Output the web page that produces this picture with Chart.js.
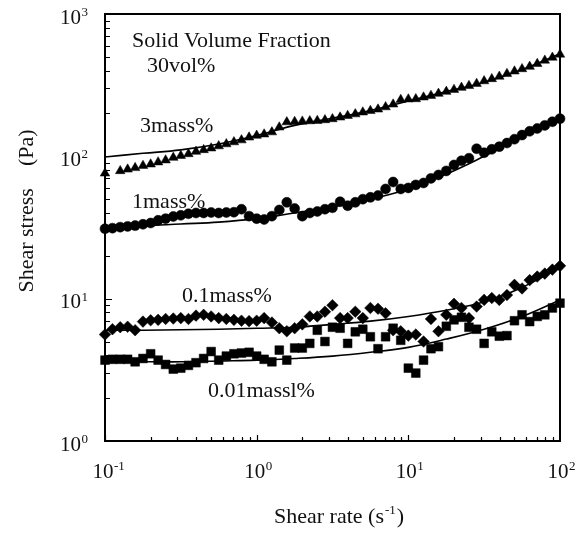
<!DOCTYPE html>
<html>
<head>
<meta charset="utf-8">
<script src="https://cdn.jsdelivr.net/npm/chart.js@4/dist/chart.umd.min.js"></script>
<style>
  body { margin: 0; background: #fff; }
  canvas { display: block; }
</style>
</head>
<body>
<canvas id="flowCurve" width="580" height="538"></canvas>
<script>
// shear rate of the measured points (s^-1)
const shearRate = [0.1, 0.112, 0.126, 0.141, 0.158, 0.178, 0.2, 0.224, 0.251, 0.282,
  0.316, 0.355, 0.398, 0.447, 0.501, 0.562, 0.631, 0.708, 0.794, 0.891,
  1, 1.12, 1.26, 1.41, 1.58, 1.78, 2, 2.24, 2.51, 2.82,
  3.16, 3.55, 3.98, 4.47, 5.01, 5.62, 6.31, 7.08, 7.94, 8.91,
  10, 11.2, 12.6, 14.1, 15.8, 17.8, 20, 22.4, 25.1, 28.2,
  31.6, 35.5, 39.8, 44.7, 50.1, 56.2, 63.1, 70.8, 79.4, 89.1, 100];

// shear stress (Pa), measured
const stress3mass = [76, null, 79, 81, 83, 86, 88, 91, 94, 98, 101, 104, 108, 111, 114, 118, 122, 126, 130, 136,
  140, 143, 148, 160, 174, 175, 176, 177, 178, 180, 183, 188, 193, 198, 204, 209, 214, 222, 232, 250,
  252, 253, 260, 267, 276, 285, 294, 304, 313, 324, 338, 350, 364, 380, 396, 411, 427, 447, 472, 495, 520];
const stress1mass = [31, 31.3, 31.8, 32.2, 32.6, 33.3, 34, 35.5, 36.5, 37.8, 38.5, 39.5, 40, 40, 40.3, 40, 40.3, 40.5, 42.5, 38,
  36.5, 36, 38, 42, 47.5, 43, 38, 40, 41, 42.5, 43.5, 48, 45, 47.5, 50, 51.5, 53, 59, 66, 59,
  60, 63, 65, 70, 74, 79, 87, 93, 97, 113, 106, 112, 117, 124, 132, 141, 150, 157, 165, 175, 184];
const stress01mass = [5.6, 6.1, 6.3, 6.35, 6.0, 6.9, 7.05, 7.1, 7.2, 7.25, 7.3, 7.2, 7.6, 7.7, 7.5, 7.3, 7.2, 7.1, 7.0, 6.95,
  7.0, 7.3, 6.8, 6.2, 5.9, 6.2, 6.6, 7.5, 7.5, 8.1, 9.0, 7.3, 7.3, 8.1, 7.3, 8.6, 8.5, 7.9, 6.0, 5.9,
  5.5, 5.6, 5.0, 7.2, 5.9, 7.7, 9.2, 8.6, 7.3, 8.8, 9.8, 10.1, 9.8, 10.6, 12.5, 11.8, 13.5, 14.3, 15.0, 16, 17];
const stress001mass = [3.7, 3.75, 3.75, 3.75, 3.6, 3.8, 4.1, 3.7, 3.45, 3.2, 3.25, 3.4, 3.55, 3.8, 4.25, 3.7, 3.95, 4.1, 4.15, 4.2,
  3.95, 3.75, 3.6, 4.35, 3.7, 4.5, 4.5, 4.85, 6.0, 5.0, 6.3, 6.2, 4.85, 5.85, 6.1, 5.4, 4.45, 5.4, 6.2, 5.1,
  3.25, 3.0, 3.7, 4.45, 4.6, 6.4, 7.1, 7.4, 6.3, 6.1, 4.85, 5.85, 5.45, 5.5, 7.0, 7.7, 6.9, 7.5, 7.7, 8.6, 9.3];

// model curves
const fitRate = [0.1, 0.178, 0.316, 0.562, 1, 1.78, 3.16, 5.62, 10, 17.8, 31.6, 56.2, 100];
const fit3mass = [99, 105, 111, 122, 140, 165, 185, 210, 245, 285, 331, 407, 525];
const fit1mass = [32, 32.5, 33.5, 34.5, 36.5, 40, 44, 50, 59, 75, 100, 136, 182];
const fit01mass = [6.0, 6.0, 6.05, 6.1, 6.2, 6.3, 6.6, 6.95, 7.5, 8.3, 9.5, 12.0, 16.5];
const fit001mass = [3.55, 3.6, 3.6, 3.65, 3.7, 3.8, 3.95, 4.2, 4.55, 5.2, 6.1, 7.5, 9.8];

// axis ticks
const xTickValues = [0.1, 1, 10, 100];
const xTickExps = ['-1', '0', '1', '2'];
const yTickValues = [1, 10, 100, 1000];
const yTickExps = ['0', '1', '2', '3'];

const notes = [
  { text: 'Solid Volume Fraction', left: 132, base: 47 },
  { text: '30vol%', left: 147, base: 72 },
  { text: '3mass%', left: 140, base: 132 },
  { text: '1mass%', left: 132, base: 208 },
  { text: '0.1mass%', left: 182, base: 302 },
  { text: '0.01massl%', left: 208, base: 397 },
];

const FONT = '"Liberation Serif", "Times New Roman", serif';

function points(xs, ys) {
  return xs.map((x, i) => ({ x: x, y: ys[i] })).filter(p => p.y !== null);
}

function markers(ys, style, radius) {
  return {
    data: points(shearRate, ys),
    pointStyle: style,
    pointRadius: radius,
    pointBackgroundColor: '#000',
    pointBorderColor: '#000',
    pointBorderWidth: 0.5,
    showLine: false,
    clip: false,
  };
}

function curve(ys) {
  return {
    data: points(fitRate, ys),
    showLine: true,
    borderColor: '#000',
    borderWidth: 1.6,
    tension: 0.4,
    pointRadius: 0,
    fill: false,
  };
}

const decoration = {
  id: 'decoration',
  afterDraw(chart) {
    const ctx = chart.ctx;
    const a = chart.chartArea;
    const x = chart.scales.x;
    const y = chart.scales.y;
    ctx.save();
    ctx.strokeStyle = '#000';
    ctx.fillStyle = '#111';

    // minor/major ticks, pointing inward
    ctx.lineWidth = 1.2;
    ctx.beginPath();
    for (let d = 0; d < 3; d++) {
      for (let m = 1; m <= 9; m++) {
        const v = Math.pow(10, d) * m;
        const py = Math.round(y.getPixelForValue(v)) + 0.5;
        const len = m === 1 ? 7 : 5;
        ctx.moveTo(a.left, py);
        ctx.lineTo(a.left + len, py);
      }
    }
    for (let d = -1; d < 2; d++) {
      for (let m = 1; m <= 9; m++) {
        const v = Math.pow(10, d) * m;
        const px = Math.round(x.getPixelForValue(v)) + 0.5;
        const len = m === 1 ? 6 : 4;
        ctx.moveTo(px, a.bottom);
        ctx.lineTo(px, a.bottom - len);
      }
    }
    ctx.stroke();

    // frame
    ctx.lineWidth = 2;
    ctx.strokeRect(a.left, a.top, a.right - a.left, a.bottom - a.top);

    // tick labels
    ctx.textBaseline = 'alphabetic';
    ctx.textAlign = 'left';
    xTickValues.forEach((v, i) => {
      const px = x.getPixelForValue(v);
      ctx.font = '21px ' + FONT;
      const w = ctx.measureText('10').width;
      const left = px - w / 2 - 2;
      ctx.fillText('10', left, 478);
      ctx.font = '13px ' + FONT;
      ctx.fillText(xTickExps[i], left + w + 0.5, 470);
    });
    yTickValues.forEach((v, i) => {
      const py = y.getPixelForValue(v);
      ctx.font = '13px ' + FONT;
      const we = ctx.measureText(yTickExps[i]).width;
      ctx.font = '21px ' + FONT;
      const w = ctx.measureText('10').width;
      const right = a.left - 17;
      ctx.fillText('10', right - we - 0.5 - w, py + 9.5);
      ctx.font = '13px ' + FONT;
      ctx.fillText(yTickExps[i], right - we, py + 2);
    });

    // axis titles
    ctx.font = '22px ' + FONT;
    const t1 = 'Shear rate (s';
    const w1 = ctx.measureText(t1).width;
    ctx.fillText(t1, 274, 523);
    ctx.font = '13px ' + FONT;
    const w2 = ctx.measureText('-1').width;
    ctx.fillText('-1', 274 + w1 + 1, 514);
    ctx.font = '22px ' + FONT;
    ctx.fillText(')', 274 + w1 + w2 + 2, 523);

    ctx.save();
    ctx.translate(27, 211);
    ctx.rotate(-Math.PI / 2);
    ctx.textAlign = 'center';
    ctx.textBaseline = 'middle';
    ctx.fillText('Shear stress    (Pa)', 0, 0);
    ctx.restore();

    // annotations
    ctx.font = '22px ' + FONT;
    notes.forEach(n => ctx.fillText(n.text, n.left, n.base));
    ctx.restore();
  }
};

new Chart(document.getElementById('flowCurve'), {
  type: 'scatter',
  data: {
    datasets: [
      curve(fit3mass),
      curve(fit1mass),
      curve(fit01mass),
      curve(fit001mass),
      markers(stress3mass, 'triangle', 5.5),
      markers(stress1mass, 'circle', 5),
      markers(stress01mass, 'rectRot', 5.8),
      markers(stress001mass, 'rect', 6.2),
    ]
  },
  options: {
    responsive: false,
    animation: false,
    devicePixelRatio: 1,
    layout: { padding: { left: 105, top: 14, right: 20, bottom: 97 } },
    plugins: { legend: { display: false }, tooltip: { enabled: false } },
    scales: {
      x: { type: 'logarithmic', min: 0.1, max: 100, display: false },
      y: { type: 'logarithmic', min: 1, max: 1000, display: false }
    }
  },
  plugins: [decoration]
});
</script>
</body>
</html>
